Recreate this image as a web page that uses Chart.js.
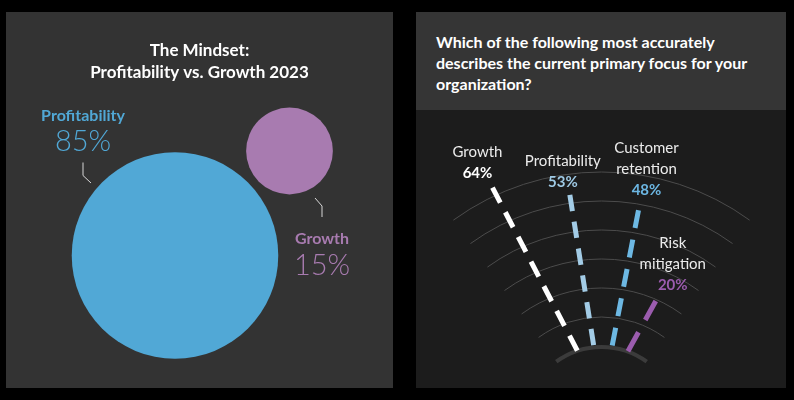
<!DOCTYPE html>
<html>
<head>
<meta charset="utf-8">
<script src="https://cdn.jsdelivr.net/npm/chart.js@4.4.0/dist/chart.umd.min.js"></script>
<style>
  body { margin: 0; width: 794px; height: 400px; background: #000; position: relative; overflow: hidden; font-family: Lato, sans-serif; }
  #left { position: absolute; left: 6px; top: 12px; width: 387px; height: 376px; background: #333; }
  #right { position: absolute; left: 416px; top: 12px; width: 370px; height: 376px; background: #1c1c1c; }
  #head { height: 98px; background: #353535; color: #fff; font-weight: bold; font-size: 16px; line-height: 21px;
          padding: 19px 0 0 20px; box-sizing: border-box; white-space: nowrap; }
  canvas { display: block; }
</style>
</head>
<body>
<div id="left"><canvas id="mindset" width="387" height="376"></canvas></div>
<div id="right">
  <div id="head">Which of the following most accurately<br>describes the current primary focus for your<br>organization?</div>
  <canvas id="focus" width="370" height="278"></canvas>
</div>
<script>
// left chart: profitability vs growth
const mindsetLabels = ['Profitability', 'Growth'];
const mindsetValues = [85, 15];

// right chart: primary focus
const focusLabels = [['Growth'], ['Profitability'], ['Customer', 'retention'], ['Risk', 'mitigation']];
const focusValues = [64, 53, 48, 20];

// layout stuff (pixels / degrees), not data
const bubblePos = [{ x: 169, y: 243.5 }, { x: 283.5, y: 139 }];
const bubbleScale = 11.2;
const mindsetColors = ['#51a8d6', '#a87bb0'];

const focusAngles = [-27.5, -9, 11, 29];
const focusColors = ['#ffffff', '#a3cce6', '#6db8e3', '#9b5cae'];
const focusTextColors = ['#ffffff', '#9fcae5', '#6cb6e2', '#9b5cae'];
const lineStart = 53.5;
const lineScale = 2.87;
const labelOffsets = [[-15, -14], [-7, -13], [8, -20], [17, -16]];
const arcRadii = [252, 223, 194, 165, 136, 107];

// ---------- left: bubbles ----------
const mindsetLabelPlugin = {
    id: 'mindsetLabels',
    afterDatasetsDraw(chart) {
        const ctx = chart.ctx;
        const pts = chart.getDatasetMeta(0).data;
        ctx.save();
        ctx.textAlign = 'center';
        ctx.textBaseline = 'middle';

        // Profitability label, up-left of big bubble
        let p = pts[0];
        ctx.fillStyle = mindsetColors[0];
        ctx.font = 'bold 16px Lato';
        ctx.fillText(mindsetLabels[0], p.x - 92, p.y - 139.5);
        ctx.font = '300 29px Lato';
        ctx.fillText(mindsetValues[0] + '%', p.x - 92, p.y - 113.5);
        ctx.strokeStyle = '#d8d8d8';
        ctx.lineWidth = 1;
        ctx.beginPath();
        ctx.moveTo(p.x - 92, p.y - 93);
        ctx.lineTo(p.x - 92, p.y - 80);
        ctx.lineTo(p.x - 84, p.y - 72.5);
        ctx.stroke();

        // Growth label, below-right of small bubble
        p = pts[1];
        ctx.fillStyle = mindsetColors[1];
        ctx.font = 'bold 16px Lato';
        ctx.fillText(mindsetLabels[1], p.x + 32.5, p.y + 88);
        ctx.font = '300 29px Lato';
        ctx.fillText(mindsetValues[1] + '%', p.x + 32.5, p.y + 115);
        ctx.beginPath();
        ctx.moveTo(p.x + 25.5, p.y + 47);
        ctx.lineTo(p.x + 32.5, p.y + 55);
        ctx.lineTo(p.x + 32.5, p.y + 66);
        ctx.stroke();
        ctx.restore();
    }
};

new Chart(document.getElementById('mindset'), {
    type: 'bubble',
    data: {
        labels: mindsetLabels,
        datasets: [{
            data: mindsetValues.map((v, i) => ({ x: bubblePos[i].x, y: bubblePos[i].y, r: bubbleScale * Math.sqrt(v) })),
            backgroundColor: mindsetColors,
            borderWidth: 0,
            hoverRadius: 0,
            clip: false
        }]
    },
    options: {
        responsive: false,
        animation: false,
        events: [],
        layout: { autoPadding: false, padding: 0 },
        scales: {
            x: { display: false, min: 0, max: 387 },
            y: { display: false, min: 72, max: 376, reverse: true }
        },
        plugins: {
            legend: { display: false },
            tooltip: { enabled: false },
            title: {
                display: true,
                text: ['The Mindset:', 'Profitability vs. Growth 2023'],
                color: '#ffffff',
                font: { family: 'Lato', size: 17, weight: 'bold', lineHeight: 1.3 },
                padding: { top: 27, bottom: 0.8 }
            }
        }
    },
    plugins: [mindsetLabelPlugin]
});

// ---------- right: radiating dashed lines ----------
const rad = d => d * Math.PI / 180;

const arcPlugin = {
    id: 'arcs',
    beforeDatasetsDraw(chart) {
        const ctx = chart.ctx;
        const xs = chart.scales.x, ys = chart.scales.y;
        const cx = xs.getPixelForValue(-0.5), cy = ys.getPixelForValue(-26);
        const unit = xs.getPixelForValue(1) - xs.getPixelForValue(0);
        const a0 = -Math.PI / 2 - rad(36), a1 = -Math.PI / 2 + rad(36);
        ctx.save();
        ctx.strokeStyle = '#4c4c4c';
        ctx.lineWidth = 1;
        arcRadii.forEach(r => {
            ctx.beginPath();
            ctx.arc(cx, cy, r * unit, a0, a1);
            ctx.stroke();
        });
        ctx.strokeStyle = '#3b3b3b';
        ctx.lineWidth = 4;
        ctx.beginPath();
        ctx.arc(cx, cy, 77 * unit, a0, a1);
        ctx.stroke();
        ctx.restore();
    }
};

const focusLabelPlugin = {
    id: 'focusLabels',
    afterDatasetsDraw(chart) {
        const ctx = chart.ctx;
        ctx.save();
        ctx.textAlign = 'center';
        ctx.textBaseline = 'middle';
        focusValues.forEach((v, i) => {
            const end = chart.getDatasetMeta(i).data[0];
            const x = end.x + labelOffsets[i][0];
            let y = end.y + labelOffsets[i][1];
            ctx.fillStyle = focusTextColors[i];
            ctx.font = 'bold 15px Lato';
            ctx.fillText(v + '%', x, y);
            ctx.fillStyle = '#ececec';
            ctx.font = '15px Lato';
            const lines = focusLabels[i];
            for (let j = lines.length - 1; j >= 0; j--) {
                y -= 21;
                ctx.fillText(lines[j], x, y);
            }
        });
        ctx.restore();
    }
};

// stretch the dash pattern so both ends of a line get a full dash
function fitDash(len, dash, gap) {
    const n = Math.max(1, Math.round((len + gap) / (dash + gap)));
    const k = len / (n * dash + (n - 1) * gap);
    return [dash * k, gap * k];
}

// lines go from the outer end inwards
const focusDatasets = focusValues.map((v, i) => {
    const a = rad(focusAngles[i]);
    const len = lineScale * v;
    const r1 = lineStart + len;
    return {
        label: focusLabels[i].join(' '),
        data: [
            { x: r1 * Math.sin(a), y: r1 * Math.cos(a) },
            { x: lineStart * Math.sin(a), y: lineStart * Math.cos(a) }
        ],
        showLine: true,
        borderColor: focusColors[i],
        borderWidth: 5,
        borderDash: fitDash(len, 17, 11),
        borderCapStyle: 'butt',
        pointRadius: 0,
        pointHoverRadius: 0
    };
});

new Chart(document.getElementById('focus'), {
    type: 'scatter',
    data: { datasets: focusDatasets },
    options: {
        responsive: false,
        animation: false,
        events: [],
        layout: { autoPadding: false, padding: 0 },
        scales: {
            x: { display: false, min: -186, max: 184 },
            y: { display: false, min: 10, max: 288 }
        },
        plugins: {
            legend: { display: false },
            tooltip: { enabled: false }
        }
    },
    plugins: [arcPlugin, focusLabelPlugin]
});
</script>
</body>
</html>
